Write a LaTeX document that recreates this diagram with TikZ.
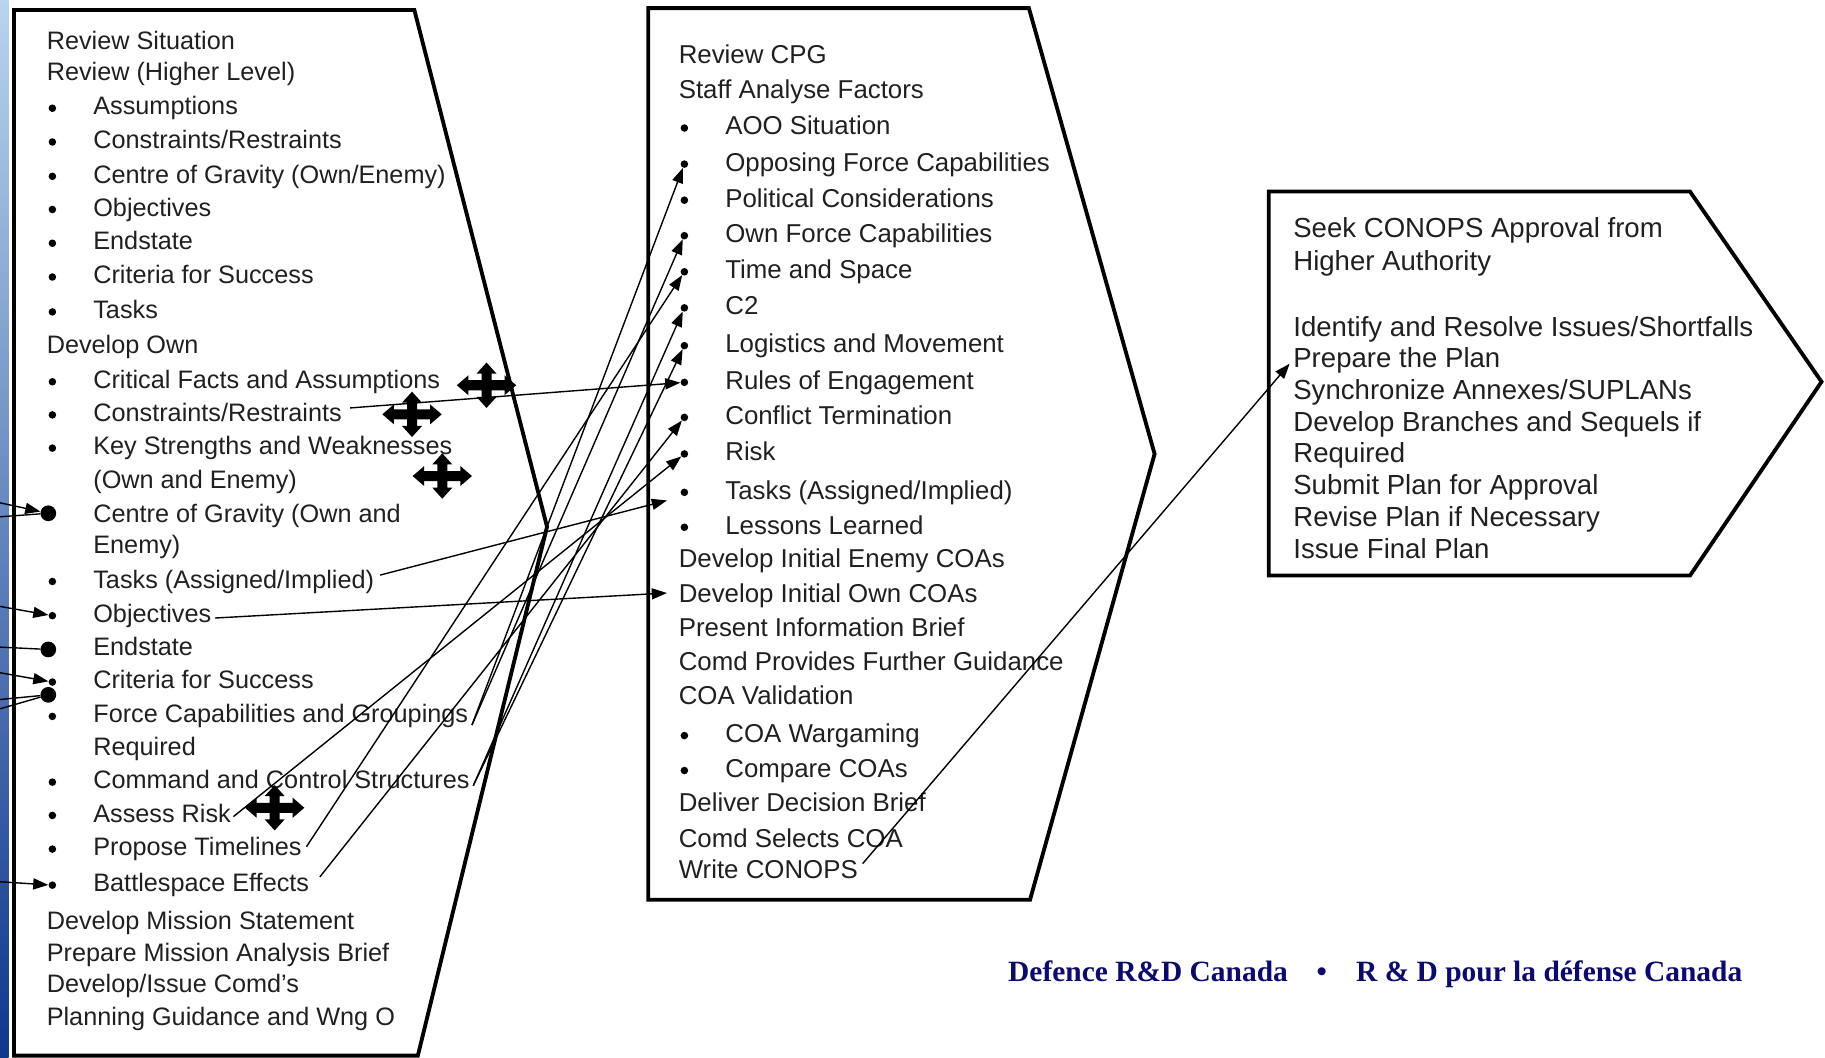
\documentclass[tikz,border=0pt]{standalone}
\usepackage{fontspec}
\setmainfont{Liberation Sans}
\newfontfamily\drdcfont{Liberation Serif}
\usepackage{xcolor}
\usepackage{tikz}
\usetikzlibrary{arrows.meta}
\definecolor{txtgray}{RGB}{32,32,32}
\definecolor{drdcblue}{RGB}{10,10,112}

\begin{document}
\begin{tikzpicture}[
        x=1pt, y=-1pt,
        panel/.style={line width=3.3pt, line join=miter},
        lefttxt/.style={anchor=west, inner sep=0pt, text height=15.5pt, text depth=0pt, text=txtgray, font=\fontsize{21.7}{26}\selectfont},
        midtxt/.style={anchor=west, inner sep=0pt, text height=15.9pt, text depth=0pt, text=txtgray, font=\fontsize{22.2}{27}\selectfont},
        righttxt/.style={anchor=west, inner sep=0pt, text height=16.9pt, text depth=0pt, text=txtgray, font=\fontsize{23.7}{28}\selectfont},
        drdc/.style={anchor=west, inner sep=0pt, text height=16.7pt, text depth=0pt, text=drdcblue, font=\drdcfont\bfseries\fontsize{25.3}{30}\selectfont},
        bul/.style={circle, fill=black, inner sep=0pt, minimum size=6.5pt},
        bigdot/.style={circle, fill=black, inner sep=0pt, minimum size=13.5pt},
        link/.style={line width=1.2pt, -{Triangle[length=13pt,width=9.5pt]}},
        plainlink/.style={line width=1.2pt},
        movecross/.pic={
            \fill[black] (-25.5,0) -- (-15.5,-8.6) -- (-15.5,-4.3) -- (-4.3,-4.3) -- (-4.3,-10) -- (-8.6,-10) -- (0,-19.5)
              -- (8.6,-10) -- (4.3,-10) -- (4.3,-4.3) -- (15.5,-4.3) -- (15.5,-8.6) -- (25.5,0) -- (15.5,8.6) -- (15.5,4.3)
              -- (4.3,4.3) -- (4.3,10) -- (8.6,10) -- (0,19.5) -- (-8.6,10) -- (-4.3,10) -- (-4.3,4.3) -- (-15.5,4.3) -- (-15.5,8.6) -- cycle;
        },
    ]
        \useasboundingbox (0,0) rectangle (1568,909);
        % slide edge
        \shade[top color={rgb,255:red,185;green,212;blue,238}, middle color={rgb,255:red,110;green,160;blue,215}, bottom color={rgb,255:red,15;green,55;blue,140}] (0,0) rectangle (7.5,909);

        % the three panels
        \draw[panel] (12,8.6) -- (356,8.6) -- (470,452.6) -- (359,907) -- (12,907) -- cycle;
        \draw[panel] (557,7) -- (884,7) -- (992,390) -- (885,773) -- (557,773) -- cycle;
        \draw[panel] (1090,164.6) -- (1452,164.6) -- (1565,328) -- (1452,494.5) -- (1090,494.5) -- cycle;

        % left panel
        \node[lefttxt] (l1) at (40,35) {Review Situation};
        \node[lefttxt] (l2) at (40,61.6) {Review (Higher Level)};
        \node[bul] (lb3) at (45,93) {};
        \node[lefttxt] (l3) at (80,91) {Assumptions};
        \node[bul] (lb4) at (45,122) {};
        \node[lefttxt] (l4) at (80,120) {Constraints/Restraints};
        \node[bul] (lb5) at (45,151.5) {};
        \node[lefttxt] (l5) at (80,149.5) {Centre of Gravity (Own/Enemy)};
        \node[bul] (lb6) at (45,180) {};
        \node[lefttxt] (l6) at (80,178) {Objectives};
        \node[bul] (lb7) at (45,209) {};
        \node[lefttxt] (l7) at (80,207) {Endstate};
        \node[bul] (lb8) at (45,238) {};
        \node[lefttxt] (l8) at (80,236) {Criteria for Success};
        \node[bul] (lb9) at (45,268) {};
        \node[lefttxt] (l9) at (80,266) {Tasks};
        \node[lefttxt] (l10) at (40,296) {Develop Own};
        \node[bul] (lb11) at (45,328) {};
        \node[lefttxt] (l11) at (80,325.8) {Critical Facts and Assumptions};
        \node[bul] (lb12) at (45,356.5) {};
        \node[lefttxt] (l12) at (80,354.5) {Constraints/Restraints};
        \node[bul] (lb13) at (45,385) {};
        \node[lefttxt] (l13) at (80,383) {Key Strengths and Weaknesses};
        \node[lefttxt] (l14) at (80,412) {(Own and Enemy)};
        \node[bigdot] (lb15) at (41.5,441) {};
        \node[lefttxt] (l15) at (80,441) {Centre of Gravity (Own and};
        \node[lefttxt] (l16) at (80,468) {Enemy)};
        \node[bul] (lb17) at (45,499.6) {};
        \node[lefttxt] (l17) at (80,497.6) {Tasks (Assigned/Implied)};
        \node[bul] (lb18) at (45,529) {};
        \node[lefttxt] (l18) at (80,527) {Objectives};
        \node[bigdot] (lb19) at (41.5,558) {};
        \node[lefttxt] (l19) at (80,555.5) {Endstate};
        \node[bul] (lb20) at (45,586) {};
        \node[lefttxt] (l20) at (80,584) {Criteria for Success};
        \node[bigdot] (xdot) at (41.5,597) {};
        \node[bul] (lb21) at (45,615.5) {};
        \node[lefttxt] (l21) at (80,613) {Force Capabilities and Groupings};
        \node[lefttxt] (l22) at (80,641.5) {Required};
        \node[bul] (lb23) at (45,672) {};
        \node[lefttxt] (l23) at (80,670) {Command and Control Structures};
        \node[bul] (lb24) at (45,700.6) {};
        \node[lefttxt] (l24) at (80,698.6) {Assess Risk};
        \node[bul] (lb25) at (45,729.5) {};
        \node[lefttxt] (l25) at (80,727.5) {Propose Timelines};
        \node[bul] (lb26) at (45,760.5) {};
        \node[lefttxt] (l26) at (80,758.5) {Battlespace Effects};
        \node[lefttxt] (l27) at (40,791) {Develop Mission Statement};
        \node[lefttxt] (l28) at (40,818) {Prepare Mission Analysis Brief};
        \node[lefttxt] (l29) at (40,845) {Develop/Issue Comd's};
        \node[lefttxt] (l30) at (40,873) {Planning Guidance and Wng O};

        % middle panel
        \node[midtxt] (m1) at (583,47) {Review CPG};
        \node[midtxt] (m2) at (583,76.7) {Staff Analyse Factors};
        \node[bul] (mb3) at (588,110) {};
        \node[midtxt] (m3) at (623,108) {AOO Situation};
        \node[bul] (mb4) at (588,141) {};
        \node[midtxt] (m4) at (623,139) {Opposing Force Capabilities};
        \node[bul] (mb5) at (588,172) {};
        \node[midtxt] (m5) at (623,170) {Political Considerations};
        \node[bul] (mb6) at (588,202.5) {};
        \node[midtxt] (m6) at (623,200.5) {Own Force Capabilities};
        \node[bul] (mb7) at (588,233.5) {};
        \node[midtxt] (m7) at (623,231.5) {Time and Space};
        \node[bul] (mb8) at (588,264.5) {};
        \node[midtxt] (m8) at (623,262.5) {C2};
        \node[bul] (mb9) at (588,297) {};
        \node[midtxt] (m9) at (623,295) {Logistics and Movement};
        \node[bul] (mb10) at (588,328.5) {};
        \node[midtxt] (m10) at (623,326.5) {Rules of Engagement};
        \node[bul] (mb11) at (588,358.6) {};
        \node[midtxt] (m11) at (623,356.6) {Conflict Termination};
        \node[bul] (mb12) at (588,390) {};
        \node[midtxt] (m12) at (623,388) {Risk};
        \node[bul] (mb13) at (588,423) {};
        \node[midtxt] (m13) at (623,421) {Tasks (Assigned/Implied)};
        \node[bul] (mb14) at (588,453) {};
        \node[midtxt] (m14) at (623,451) {Lessons Learned};
        \node[midtxt] (m15) at (583,479.5) {Develop Initial Enemy COAs};
        \node[midtxt] (m16) at (583,509.5) {Develop Initial Own COAs};
        \node[midtxt] (m17) at (583,538.7) {Present Information Brief};
        \node[midtxt] (m18) at (583,568.5) {Comd Provides Further Guidance};
        \node[midtxt] (m19) at (583,597) {COA Validation};
        \node[bul] (mb20) at (588,632) {};
        \node[midtxt] (m20) at (623,630) {COA Wargaming};
        \node[bul] (mb21) at (588,662) {};
        \node[midtxt] (m21) at (623,660) {Compare COAs};
        \node[midtxt] (m22) at (583,689) {Deliver Decision Brief};
        \node[midtxt] (m23) at (583,720) {Comd Selects COA};
        \node[midtxt] (m24) at (583,747) {Write CONOPS};

        % right panel
        \node[righttxt] (r1) at (1111,196) {Seek CONOPS Approval from};
        \node[righttxt] (r2) at (1111,224) {Higher Authority};
        \node[righttxt] (r3) at (1111,281) {Identify and Resolve Issues/Shortfalls};
        \node[righttxt] (r4) at (1111,307.5) {Prepare the Plan};
        \node[righttxt] (r5) at (1111,335) {Synchronize Annexes/SUPLANs};
        \node[righttxt] (r6) at (1111,362.5) {Develop Branches and Sequels if};
        \node[righttxt] (r7) at (1111,389) {Required};
        \node[righttxt] (r8) at (1111,416.6) {Submit Plan for Approval};
        \node[righttxt] (r9) at (1111,444) {Revise Plan if Necessary};
        \node[righttxt] (r10) at (1111,471) {Issue Final Plan};

        % footer
        \node[drdc] (f1) at (866,834.7) {Defence R\&D Canada};
        \node[drdc] (f2) at (1131,834.7) {•};
        \node[drdc] (f3) at (1165,834.7) {R \& D pour la défense Canada};

        % arrows coming in from the left
        \coordinate (in1) at (0,432);
        \coordinate (in2) at (0,444);
        \coordinate (in3) at (0,521);
        \coordinate (in4) at (0,556);
        \coordinate (in5) at (0,578);
        \coordinate (in6) at (0,601);
        \coordinate (in7) at (0,609);
        \coordinate (in8) at (0,757.6);
        \draw[link] (in1) -- (lb15);
        \draw[plainlink] (in2) -- (lb15);
        \draw[link] (in3) -- (lb18);
        \draw[plainlink] (in4) -- (lb19);
        \draw[link] (in5) -- (lb20);
        \draw[plainlink] (in6) -- (xdot);
        \draw[plainlink] (in7) -- (xdot);
        \draw[link] (in8) -- (lb26);

        % left panel to middle panel
        \draw[link] ([xshift=7pt,yshift=4pt]l12.east) -- (mb10);
        \draw[link] ([xshift=5pt,yshift=3.5pt]l17.east) -- ([shift={(-15,7)}]mb13.center);
        \draw[link] ([xshift=3pt,yshift=-4pt]l18.east) -- ([xshift=-10pt]m16.west);
        \draw[link] ([xshift=2pt,yshift=-3pt]l24.east) -- (mb12);
        \draw[link] ([xshift=4pt]l25.east) -- (mb7);
        \draw[link] ([xshift=9pt,yshift=5pt]l26.east) -- (mb11);
        \draw[link] ([xshift=3pt,yshift=-10pt]l21.east) -- (mb4);
        \draw[link] ([xshift=3pt,yshift=-10pt]l21.east) -- (mb6);
        \draw[link] ([xshift=3pt,yshift=-5pt]l23.east) -- (mb8);
        \draw[link] ([xshift=3pt,yshift=-5pt]l23.east) -- (mb9);

        % middle panel to right panel
        \draw[link] ([xshift=4pt,yshift=5pt]m24.east) -- ([xshift=-3pt,yshift=-5pt]r4.west);

        % move cursors
        \pic at (418,331) {movecross};
        \pic at (354,356) {movecross};
        \pic at (380,409) {movecross};
        \pic at (236,694) {movecross};
    \end{tikzpicture}
\end{document}
